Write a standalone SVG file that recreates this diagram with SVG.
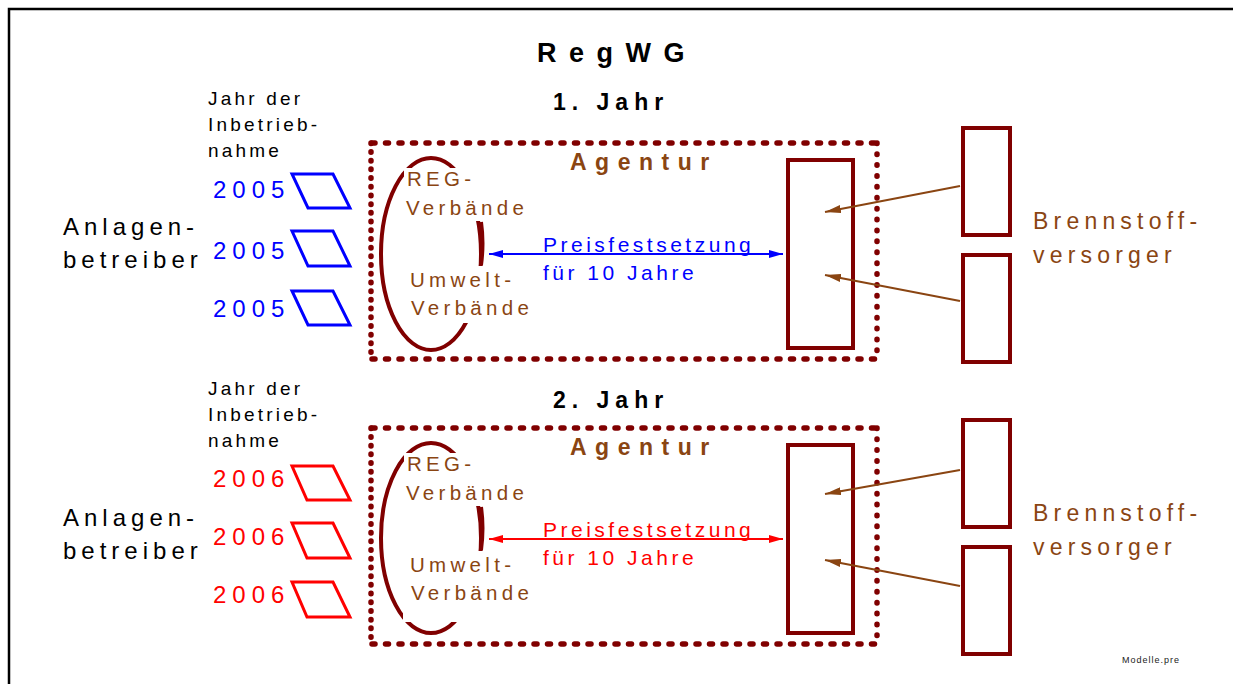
<svg xmlns="http://www.w3.org/2000/svg" width="1233" height="684" viewBox="0 0 1233 684">
  <style>
    text { font-family: "Liberation Sans", Arial, sans-serif; }
    .title { font-size: 27px; font-weight: bold; letter-spacing: 12.5px; fill: #000; }
    .year { font-size: 23px; font-weight: bold; letter-spacing: 6px; fill: #000; }
    .agentur { font-size: 23px; font-weight: bold; letter-spacing: 8.5px; fill: #8a4512; }
    .side { font-size: 24px; letter-spacing: 5px; fill: #000; }
    .supplier { font-size: 23px; letter-spacing: 5.2px; fill: #8a4512; }
    .small { font-size: 19px; letter-spacing: 3.2px; fill: #000; }
    .verb { font-size: 20.5px; letter-spacing: 4.3px; fill: #8a4512; }
    .price { font-size: 21px; letter-spacing: 3.5px; }
    .num { font-size: 24px; letter-spacing: 6px; }
    .hdash { fill: none; stroke: #800000; stroke-width: 5.5; stroke-linecap: round; stroke-dasharray: 3 10.5; }
    .vdotL { fill: none; stroke: #800000; stroke-width: 5.5; stroke-linecap: round; stroke-dasharray: 0.5 8.2; }
    .vdotR { fill: none; stroke: #800000; stroke-width: 5.5; stroke-linecap: round; stroke-dasharray: 0.5 10.4; }
    .box { fill: none; stroke: #800000; stroke-width: 4; }
    .oval { fill: none; stroke: #800000; stroke-width: 4; }
    .mask { fill: #fff; }
    .para { fill: none; stroke-width: 3; stroke-linejoin: miter; }
    .feed { fill: none; stroke: #8a4512; stroke-width: 2; }
  </style>
  <defs>
    <marker id="arrBrown" viewBox="0 0 16 8" refX="16" refY="4" markerWidth="16" markerHeight="8" markerUnits="userSpaceOnUse" orient="auto">
      <path d="M0,0 L16,4 L0,8 Z" fill="#8a4512"/>
    </marker>
    <marker id="arrBlueEnd" viewBox="0 0 14 8" refX="14" refY="4" markerWidth="14" markerHeight="8" markerUnits="userSpaceOnUse" orient="auto">
      <path d="M0,0 L14,4 L0,8 Z" fill="#0000ff"/>
    </marker>
    <marker id="arrBlueStart" viewBox="0 0 14 8" refX="0" refY="4" markerWidth="14" markerHeight="8" markerUnits="userSpaceOnUse" orient="auto">
      <path d="M14,0 L0,4 L14,8 Z" fill="#0000ff"/>
    </marker>
    <marker id="arrRedEnd" viewBox="0 0 14 8" refX="14" refY="4" markerWidth="14" markerHeight="8" markerUnits="userSpaceOnUse" orient="auto">
      <path d="M0,0 L14,4 L0,8 Z" fill="#ff0000"/>
    </marker>
    <marker id="arrRedStart" viewBox="0 0 14 8" refX="0" refY="4" markerWidth="14" markerHeight="8" markerUnits="userSpaceOnUse" orient="auto">
      <path d="M14,0 L0,4 L14,8 Z" fill="#ff0000"/>
    </marker>
  </defs>

  <rect width="1233" height="684" fill="#fff"/>
  <!-- page frame (top and left edges) -->
  <path d="M9,684 L9,9 L1233,9" fill="none" stroke="#000" stroke-width="2.5"/>

  <text class="title" x="537" y="62">RegWG</text>

  <!-- ===== year 1 ===== -->
  <g id="year1-label"><text class="year" x="553" y="110">1. Jahr</text></g>

  <g id="year1-agentur">
    <path class="hdash" d="M372,143 L876,143 M372,359 L876,359"/>
    <path class="vdotL" d="M371,143 L371,359"/>
    <path class="vdotR" d="M877,143 L877,359"/>
    <text class="agentur" x="570" y="170">Agentur</text>
  </g>

  <g id="year1-verbaende">
    <ellipse class="oval" cx="431" cy="254" rx="50" ry="96"/>
    <rect class="mask" x="404" y="168" width="130" height="53"/>
    <rect class="mask" x="404" y="266" width="132" height="57"/>
    <text class="verb" x="407" y="186">REG-</text>
    <text class="verb" x="406" y="215">Verbände</text>
    <text class="verb" x="410" y="287">Umwelt-</text>
    <text class="verb" x="411" y="315">Verbände</text>
  </g>

  <g id="year1-pool"><rect class="box" x="788" y="160" width="65" height="188"/></g>
  <g id="year1-supplier-a"><rect class="box" x="963" y="128" width="47" height="107"/></g>
  <g id="year1-supplier-b"><rect class="box" x="963" y="255" width="47" height="107"/></g>
  <g id="year1-supplier-label">
    <text class="supplier" x="1033" y="229">Brennstoff-</text>
    <text class="supplier" x="1033" y="263">versorger</text>
  </g>

  <g id="year1-operators">
    <text class="small" x="208" y="105">Jahr der</text>
    <text class="small" x="208" y="131">Inbetrieb-</text>
    <text class="small" x="208" y="157">nahme</text>
    <text class="side" x="63" y="235">Anlagen-</text>
    <text class="side" x="63" y="268">betreiber</text>
    <g fill="#0000ff">
      <text class="num" x="213" y="198">2005</text>
      <text class="num" x="213" y="259">2005</text>
      <text class="num" x="213" y="317">2005</text>
    </g>
    <g class="para" stroke="#0000ff">
      <path d="M292,174 L333,174 L350,208 L308,208 Z"/>
      <path d="M292,231 L333,231 L350,266 L308,266 Z"/>
      <path d="M292,291 L333,291 L350,325 L308,325 Z"/>
    </g>
  </g>

  <g id="year1-price">
    <text class="price" x="543" y="252" fill="#0000ff">Preisfestsetzung</text>
    <text class="price" x="543" y="280" fill="#0000ff">für 10 Jahre</text>
  </g>

  <!-- ===== year 2 ===== -->
  <g id="year2-label"><text class="year" x="553" y="408">2. Jahr</text></g>

  <g id="year2-agentur">
    <path class="hdash" d="M372,428 L876,428 M372,644 L876,644"/>
    <path class="vdotL" d="M371,428 L371,644"/>
    <path class="vdotR" d="M877,428 L877,644"/>
    <text class="agentur" x="570" y="455">Agentur</text>
  </g>

  <g id="year2-verbaende">
    <ellipse class="oval" cx="431" cy="538" rx="50" ry="95"/>
    <rect class="mask" x="404" y="453" width="130" height="53"/>
    <rect class="mask" x="403" y="551" width="133" height="71"/>
    <text class="verb" x="407" y="471">REG-</text>
    <text class="verb" x="406" y="500">Verbände</text>
    <text class="verb" x="410" y="572">Umwelt-</text>
    <text class="verb" x="411" y="600">Verbände</text>
  </g>

  <g id="year2-pool"><rect class="box" x="788" y="445" width="65" height="188"/></g>
  <g id="year2-supplier-a"><rect class="box" x="963" y="420" width="47" height="107"/></g>
  <g id="year2-supplier-b"><rect class="box" x="963" y="547" width="47" height="107"/></g>
  <g id="year2-supplier-label">
    <text class="supplier" x="1033" y="521">Brennstoff-</text>
    <text class="supplier" x="1033" y="555">versorger</text>
  </g>

  <g id="year2-operators">
    <text class="small" x="208" y="395">Jahr der</text>
    <text class="small" x="208" y="421">Inbetrieb-</text>
    <text class="small" x="208" y="447">nahme</text>
    <text class="side" x="63" y="526">Anlagen-</text>
    <text class="side" x="63" y="559">betreiber</text>
    <g fill="#ff0000">
      <text class="num" x="213" y="487">2006</text>
      <text class="num" x="213" y="545">2006</text>
      <text class="num" x="213" y="603">2006</text>
    </g>
    <g class="para" stroke="#ff0000">
      <path d="M292,466 L333,466 L350,500 L307,500 Z"/>
      <path d="M292,523 L333,523 L350,558 L307,558 Z"/>
      <path d="M292,582 L333,582 L350,617 L307,617 Z"/>
    </g>
  </g>

  <g id="year2-price">
    <text class="price" x="543" y="537" fill="#ff0000">Preisfestsetzung</text>
    <text class="price" x="543" y="565" fill="#ff0000">für 10 Jahre</text>
  </g>

  <!-- connectors -->
  <g id="connectors">
    <path class="oval" d="M481,222 Q484,243 481,265"/>
    <path class="oval" d="M481,507 Q484,528 481,550"/>
    <line x1="489" y1="254" x2="783" y2="254" stroke="#0000ff" stroke-width="2" marker-start="url(#arrBlueStart)" marker-end="url(#arrBlueEnd)"/>
    <line x1="489" y1="539" x2="783" y2="539" stroke="#ff0000" stroke-width="2" marker-start="url(#arrRedStart)" marker-end="url(#arrRedEnd)"/>
    <line class="feed" x1="960" y1="186" x2="825" y2="212" marker-end="url(#arrBrown)"/>
    <line class="feed" x1="960" y1="301" x2="825" y2="275" marker-end="url(#arrBrown)"/>
    <line class="feed" x1="960" y1="470" x2="825" y2="494" marker-end="url(#arrBrown)"/>
    <line class="feed" x1="960" y1="586" x2="825" y2="560" marker-end="url(#arrBrown)"/>
  </g>

  <text x="1122" y="663" font-size="9" letter-spacing="1" fill="#222">Modelle.pre</text>
</svg>
